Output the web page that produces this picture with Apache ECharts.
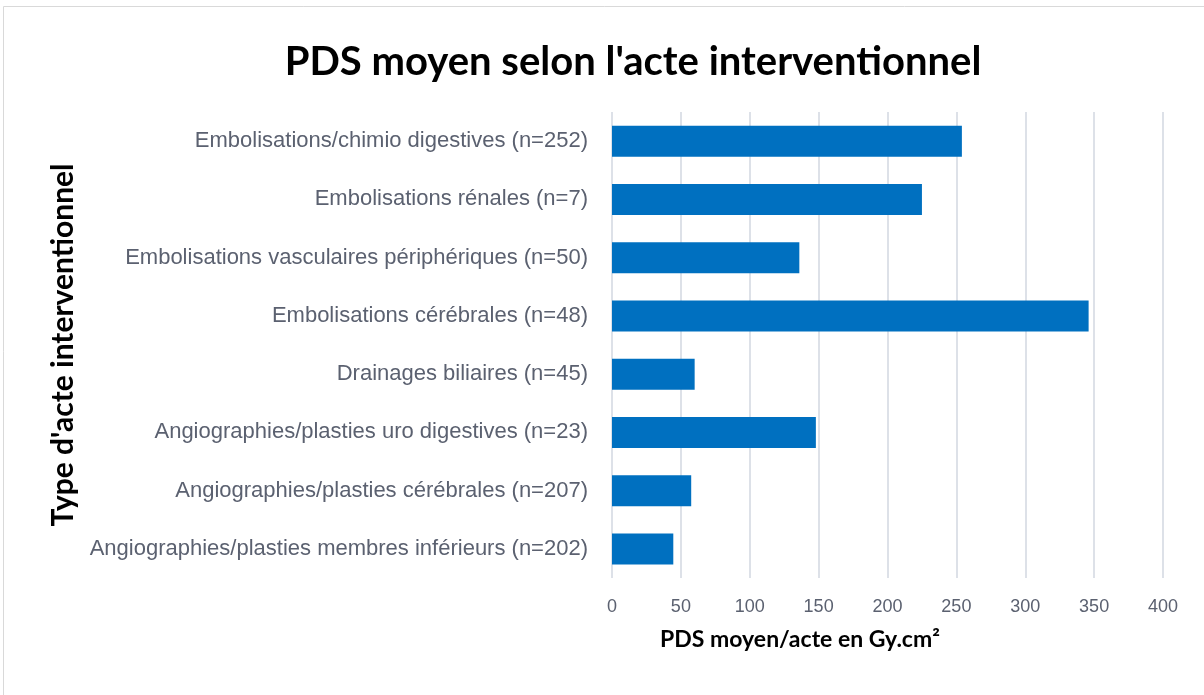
<!DOCTYPE html>
<html>
<head>
<meta charset="utf-8">
<script src="https://cdn.jsdelivr.net/npm/echarts@6/dist/echarts.min.js"></script>
<style>html,body{margin:0;padding:0;background:#fff}#c{width:1204px;height:695px}</style>
</head>
<body>
<div id="c"></div>
<script>
const categories = [
  "Angiographies/plasties membres inférieurs (n=202)",
  "Angiographies/plasties cérébrales (n=207)",
  "Angiographies/plasties uro digestives (n=23)",
  "Drainages biliaires (n=45)",
  "Embolisations cérébrales (n=48)",
  "Embolisations vasculaires périphériques (n=50)",
  "Embolisations rénales (n=7)",
  "Embolisations/chimio digestives (n=252)"
];
const values = [44.5, 57.5, 148, 60, 346, 136, 225, 254];
const titleText = "PDS moyen selon l'acte interventionnel";
const xName = "PDS moyen/acte en Gy.cm²";
const yName = "Type d'acte interventionnel";

const chart = echarts.init(document.getElementById('c'));
chart.setOption({
  animation: false,
  title: {
    text: titleText,
    left: 628, top: 37, textAlign: 'center',
    textStyle: { fontFamily: 'Lato', fontWeight: 'bold', fontSize: 40, color: '#000' }
  },
  graphic: [{
    type: 'rect', shape: { x: 3.5, y: 6.5, width: 1210, height: 700 },
    style: { fill: 'none', stroke: '#d9d9d9', lineWidth: 1 }, silent: true
  }],
  grid: { left: 612, right: 41, top: 112, bottom: 117, containLabel: false },
  xAxis: {
    type: 'value', min: 0, max: 400, interval: 50,
    axisLine: { show: false }, axisTick: { show: false },
    axisLabel: { color: '#5b6170', fontFamily: 'Liberation Sans', fontSize: 18, margin: 20 },
    splitLine: { lineStyle: { color: '#dde1e8', width: 2 } },
    name: xName, nameLocation: 'middle', nameGap: 50,
    nameTextStyle: { fontFamily: 'Lato', fontWeight: 'bold', fontSize: 23, color: '#000', padding: [0, 175, 0, 0] }
  },
  yAxis: {
    type: 'category', data: categories,
    axisLine: { show: false }, axisTick: { show: false },
    axisLabel: { color: '#5b6170', fontFamily: 'Liberation Sans', fontSize: 22, margin: 24 },
    name: yName, nameLocation: 'middle', nameGap: 534,
    nameTextStyle: { fontFamily: 'Lato', fontWeight: 'bold', fontSize: 30, color: '#000' }
  },
  series: [{
    type: 'bar', data: values, barWidth: 31,
    itemStyle: { color: '#0070C0' }
  }]
});
</script>
</body>
</html>
